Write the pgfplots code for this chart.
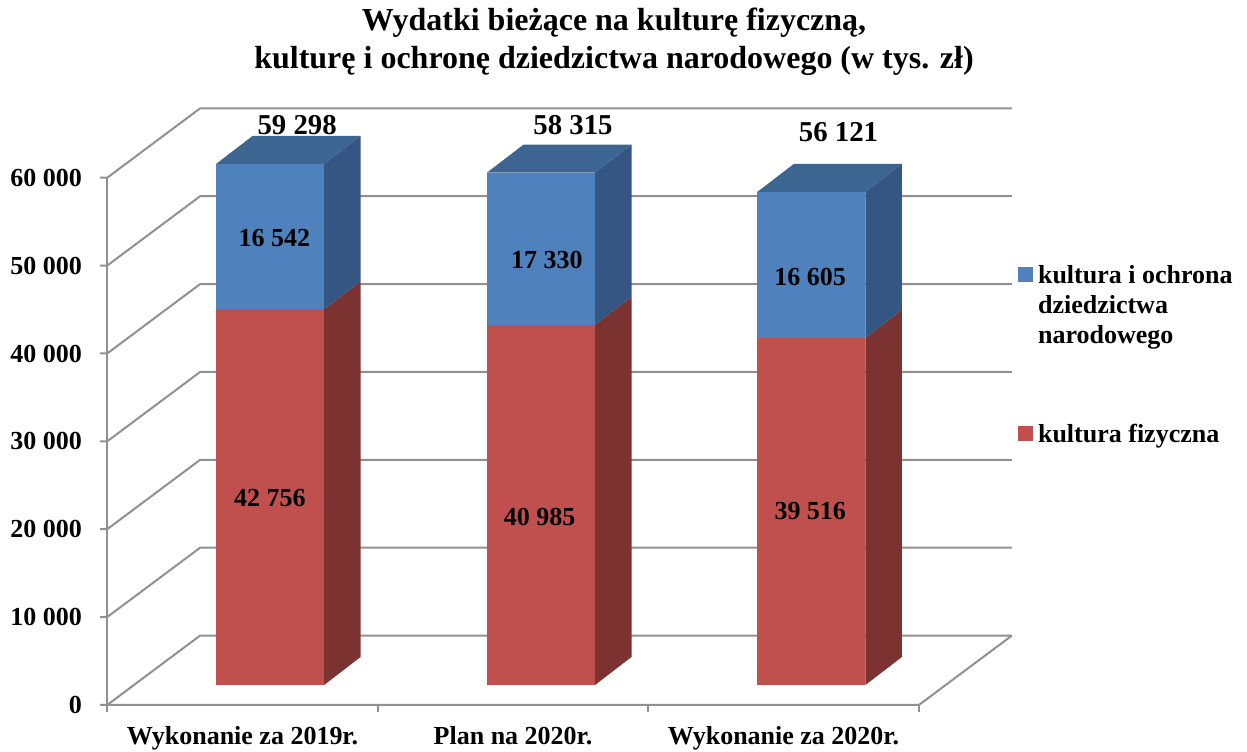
\documentclass[border=0pt]{standalone}
\usepackage{fontspec}
\setmainfont{Liberation Serif}
\usepackage{pgfplots}
\pgfplotsset{compat=1.18}
\definecolor{redF}{HTML}{C0504D}
\definecolor{redS}{HTML}{7B3230}
\definecolor{blueF}{HTML}{4F81BD}
\definecolor{blueS}{HTML}{355682}
\definecolor{blueT}{HTML}{3D6592}
\definecolor{gridc}{HTML}{909090}
\newcommand{\lblfont}{\bfseries\fontsize{13}{15}\selectfont}
% one 3D stacked bar: #1 left x of front face, #2 kultura fizyczna, #3 kultura i ochrona
\newcommand{\threedbar}[3]{%
 \addplot[fill=redF, draw=none, forget plot] table[row sep=\\, x expr=#1+\thisrow{a}, y expr=2275+\thisrow{r}*#2+\thisrow{b}*#3+\thisrow{d}*3185]
   {a r b d\\ 0 0 0 0\\ 108 0 0 0\\ 108 1 0 0\\ 0 1 0 0\\};
 \addplot[fill=redS, draw=none, forget plot] table[row sep=\\, x expr=#1+\thisrow{a}, y expr=2275+\thisrow{r}*#2+\thisrow{b}*#3+\thisrow{d}*3185]
   {a r b d\\ 108 0 0 0\\ 144.5 0 0 1\\ 144.5 1 0 1\\ 108 1 0 0\\};
 \addplot[fill=blueF, draw=none, forget plot] table[row sep=\\, x expr=#1+\thisrow{a}, y expr=2275+\thisrow{r}*#2+\thisrow{b}*#3+\thisrow{d}*3185]
   {a r b d\\ 0 1 0 0\\ 108 1 0 0\\ 108 1 1 0\\ 0 1 1 0\\};
 \addplot[fill=blueS, draw=none, forget plot] table[row sep=\\, x expr=#1+\thisrow{a}, y expr=2275+\thisrow{r}*#2+\thisrow{b}*#3+\thisrow{d}*3185]
   {a r b d\\ 108 1 0 0\\ 144.5 1 0 1\\ 144.5 1 1 1\\ 108 1 1 0\\};
 \addplot[fill=blueT, draw=none, forget plot] table[row sep=\\, x expr=#1+\thisrow{a}, y expr=2275+\thisrow{r}*#2+\thisrow{b}*#3+\thisrow{d}*3185]
   {a r b d\\ 0 1 1 0\\ 108 1 1 0\\ 144.5 1 1 1\\ 36.5 1 1 1\\};
}
\begin{document}
\begin{tikzpicture}
\begin{axis}[
  width=623.5pt, height=375.5pt, scale only axis,
  xmin=0, xmax=1247, ymin=-5233, ymax=80205,
  axis line style={draw=none}, major tick length=0pt,
  clip=false, scaled y ticks=false,
  ytick={0,10000,20000,30000,40000,50000,60000},
  yticklabel style={anchor=east, inner sep=0pt, xshift=41pt, font=\lblfont},
  xtick={242.4,513,783.5},
  xticklabels={Wykonanie za 2019r., Plan na 2020r., Wykonanie za 2020r.},
  xticklabel style={anchor=base, inner sep=0pt, yshift=3pt, font=\lblfont},
  /pgf/number format/fixed, /pgf/number format/precision=0,
  /pgf/number format/1000 sep={\ }, /pgf/number format/assume math mode=true,
  title={Wydatki bieżące na kulturę fizyczną,\\kulturę i ochronę dziedzictwa narodowego (w tys. zł)},
  title style={at={(axis description cs:0.4924,1)}, anchor=north, yshift=-9.5pt, align=center, inner sep=0pt, font=\bfseries\fontsize{16}{19}\selectfont},
  legend style={at={(axis cs:1018,50398)}, anchor=north west, draw=none, fill=none, inner sep=0pt, row sep=67.5pt,
    nodes={inner sep=0pt, font=\lblfont, anchor=base west},
    /tikz/every odd column/.append style={column sep=2.5pt}},
  legend cell align=left,
]
% frame of invisible corners
\addplot[draw=none, forget plot] coordinates {(0,-5233) (1247,80205)};
% walls, floor, gridlines
\pgfplotsinvokeforeach{0,10000,20000,30000,40000,50000,60000}{%
  \addplot[gridc, line width=1pt, forget plot] table[row sep=\\, y expr=\thisrow{y}+#1]
    {x y\\ 100 0\\ 107 0\\ 200 7900\\ 1012 7900\\};
}
\addplot[gridc, line width=1pt, forget plot] table[row sep=\\] {x y\\ 107 -762\\ 107 60000\\};
\addplot[gridc, line width=1pt, forget plot] table[row sep=\\] {x y\\ 107 0\\ 919 0\\ 1012 7900\\};
\addplot[gridc, line width=1pt, forget plot] table[row sep=\\] {x y\\ 377.7 0\\ 377.7 -762\\};
\addplot[gridc, line width=1pt, forget plot] table[row sep=\\] {x y\\ 647.7 0\\ 647.7 -762\\};
\addplot[gridc, line width=1pt, forget plot] table[row sep=\\] {x y\\ 919 0\\ 919 -762\\};
% bars
\threedbar{216}{42756}{16542}
\threedbar{487}{40985}{17330}
\threedbar{757.5}{39516}{16605}
% segment labels
\addplot[only marks, mark=none, forget plot, point meta=explicit,
  nodes near coords={\pgfmathprintnumber{\pgfplotspointmeta}}, nodes near coords align=center,
  every node near coord/.append style={anchor=center, inner sep=0pt, font=\lblfont}]
  table[row sep=\\, meta=v] {x y v\\ 274.3 53129 16542\\ 269.7 23606 42756\\ 546.8 50626 17330\\ 539.7 21388 40985\\ 810.2 48726 16605\\ 810.3 22093 39516\\};
% totals
\addplot[only marks, mark=none, forget plot, point meta=explicit,
  nodes near coords={\pgfmathprintnumber{\pgfplotspointmeta}}, nodes near coords align=center,
  every node near coord/.append style={anchor=center, inner sep=0pt, font=\bfseries\fontsize{14.4}{16}\selectfont}]
  table[row sep=\\, meta=v] {x y v\\ 297 65984 59298\\ 573 65984 58315\\ 838.6 65222 56121\\};
% legend
\addlegendimage{legend image code/.code={\fill[blueF] (0pt,1.25pt) rectangle (7pt,8.25pt);}}
\addlegendentry{\begin{tabular}[t]{@{}l@{}}kultura i ochrona\\dziedzictwa\\narodowego\end{tabular}}
\addlegendimage{legend image code/.code={\fill[redF] (0pt,1.25pt) rectangle (7pt,8.25pt);}}
\addlegendentry{\begin{tabular}[t]{@{}l@{}}kultura fizyczna\end{tabular}}
\end{axis}
\end{tikzpicture}
\end{document}
